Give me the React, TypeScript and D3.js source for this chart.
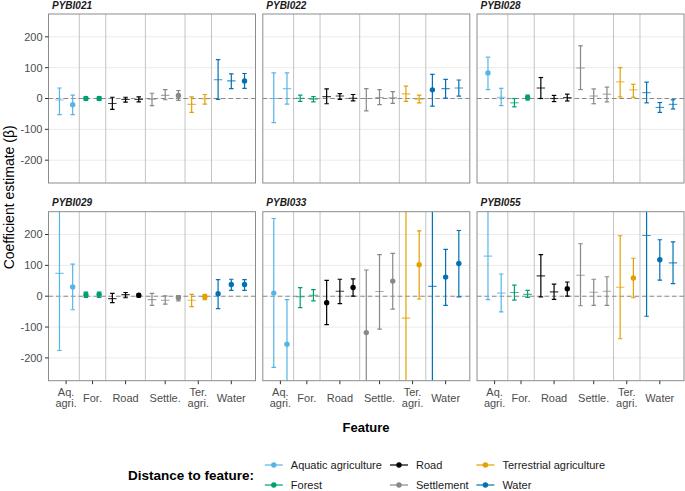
import React from "react";
import * as d3 from "d3";

const panelNames = ["PYBI021", "PYBI022", "PYBI028", "PYBI029", "PYBI033", "PYBI055"];
const featureLabels = [["Aq.", "agri."], ["For."], ["Road"], ["Settle."], ["Ter.", "agri."], ["Water"]];
const featureTickPos = [1.5, 3.5, 6, 9, 11.5, 14];
const separatorPos = [2.5, 4.5, 7.5, 10.5, 12.5];
const legendLabels = ["Aquatic agriculture", "Forest", "Road", "Settlement", "Terrestrial agriculture", "Water"];
const featureColors = ["#56B4E9", "#009E73", "#000000", "#888888", "#E69F00", "#0072B2"];
// feature index for each of the 15 model positions
const positionFeature = [0, 0, 1, 1, 2, 2, 2, 3, 3, 3, 4, 4, 5, 5, 5];
const yTicks = [-200, -100, 0, 100, 200];

const est021 = [-5, -20, 0, 0, -16, -3, -3, -2, 10, 10, -19, -1, 61, 57, 57];
const lo021 = [-52, -52, -5, -6, -35, -12, -11, -23, -4, -6, -45, -18, -3, 32, 33];
const hi021 = [34, 11, 5, 6, 4, 4, 5, 17, 29, 26, 5, 13, 126, 80, 81];
const pt021 = [0, 1, 1, 1, 0, 0, 0, 0, 0, 1, 0, 0, 0, 0, 1];

const est022 = [0, 32, 1, -2, 6, 8, 1, 0, 3, 2, 15, -2, 28, 32, 34];
const lo022 = [-78, -18, -9, -11, -17, -3, -8, -40, -20, -16, -9, -14, -25, 1, 8];
const hi022 = [83, 83, 11, 6, 31, 16, 13, 32, 29, 22, 40, 11, 78, 62, 60];
const pt022 = [0, 0, 0, 0, 0, 0, 0, 0, 0, 0, 0, 0, 1, 0, 0];

const est028 = [83, 4, -14, 3, 34, 0, 3, 99, 8, 14, 54, 28, 19, -29, -19];
const lo028 = [29, -23, -27, -5, 0, -10, -8, 29, -17, -11, 5, 4, -14, -45, -34];
const hi028 = [134, 33, 0, 11, 68, 10, 14, 171, 31, 37, 100, 46, 53, -13, -4];
const pt028 = [1, 0, 0, 1, 0, 0, 0, 0, 0, 0, 0, 0, 0, 0, 0];

const est029 = [74, 30, 5, 6, -8, 5, 3, -11, -13, -5, -13, -2, 8, 38, 38];
const lo029 = [-176, -44, -4, -4, -21, -5, -3, -30, -26, -15, -34, -11, -40, 19, 19];
const hi029 = [330, 104, 13, 13, 9, 12, 8, 9, 1, 2, 6, 6, 54, 55, 54];
const pt029 = [0, 1, 1, 1, 0, 0, 1, 0, 0, 1, 0, 1, 1, 1, 1];

const est033 = [10, -156, -2, 3, -21, 16, 28, -118, 15, 49, -71, 102, 32, 62, 106];
const lo033 = [-231, -330, -37, -15, -92, -24, 0, -330, -107, -42, -330, -9, -330, -30, -2];
const hi033 = [252, -11, 28, 21, 51, 55, 56, 85, 135, 139, 330, 212, 330, 152, 213];
const pt033 = [1, 1, 0, 0, 1, 0, 1, 1, 0, 1, 0, 1, 0, 1, 1];

const est055 = [130, 10, 12, 6, 66, 14, 24, 68, 13, 16, 29, 59, 197, 118, 108];
const lo055 = [-11, -51, -13, -4, -2, -10, 0, -31, -30, -30, -138, -5, -65, 52, 41];
const hi055 = [330, 72, 36, 19, 135, 39, 46, 170, 55, 63, 196, 123, 330, 183, 176];
const pt055 = [0, 0, 0, 0, 0, 0, 1, 0, 0, 0, 0, 1, 0, 1, 0];

const panelData = [
  [est021, lo021, hi021, pt021],
  [est022, lo022, hi022, pt022],
  [est028, lo028, hi028, pt028],
  [est029, lo029, hi029, pt029],
  [est033, lo033, hi033, pt033],
  [est055, lo055, hi055, pt055],
];

const FONT = "'Liberation Sans', Arial, Helvetica, sans-serif";
const W = 685;
const H = 491;
const panelLefts = [48.5, 262.8, 477];
const panelTops = [14, 211.7];
const PW = 207;
const PH = 169;

export default function App() {
  const x = d3.scaleLinear().domain([0.17, 15.83]).range([0, PW]);
  const y = d3.scaleLinear().domain([-274, 274]).range([PH, 0]);
  const capHalf = 0.17;
  const dashHalf = 0.32;

  return (
    <svg
      width={W}
      height={H}
      style={{ position: "absolute", left: 0, top: 0, background: "#fff" }}
      fontFamily={FONT}
    >
      <defs>
        {panelNames.map((n, i) => (
          <clipPath id={`clip${i}`} key={n}>
            <rect x={0} y={0} width={PW} height={PH} />
          </clipPath>
        ))}
      </defs>
      {panelNames.map((name, pi) => {
        const col = pi % 3;
        const row = Math.floor(pi / 3);
        const left = panelLefts[col];
        const top = panelTops[row];
        const [est, lo, hi, pt] = panelData[pi];
        return (
          <g key={name} transform={`translate(${left},${top})`}>
            <text x={3.5} y={-5.5} fontSize={10} fontWeight="bold" fontStyle="italic" fill="#1a1a1a">
              {name}
            </text>
            <rect x={0} y={0} width={PW} height={PH} fill="#fff" />
            {yTicks.map((t) => (
              <line key={t} x1={0} x2={PW} y1={y(t)} y2={y(t)} stroke="#ebebeb" strokeWidth={1} />
            ))}
            {separatorPos.map((s) => (
              <line key={s} x1={x(s)} x2={x(s)} y1={0} y2={PH} stroke="#c4c4c4" strokeWidth={1} />
            ))}
            <line x1={0} x2={PW} y1={y(0)} y2={y(0)} stroke="#8a8a8a" strokeWidth={1.1} strokeDasharray="4.5,3" />
            <g clipPath={`url(#clip${pi})`}>
              {est.map((e, i) => {
                const c = featureColors[positionFeature[i]];
                const xp = i + 1;
                return (
                  <g key={i}>
                    <line x1={x(xp)} x2={x(xp)} y1={y(lo[i])} y2={y(hi[i])} stroke={c} strokeWidth={1.2} />
                    <line x1={x(xp - capHalf)} x2={x(xp + capHalf)} y1={y(lo[i])} y2={y(lo[i])} stroke={c} strokeWidth={1.2} />
                    <line x1={x(xp - capHalf)} x2={x(xp + capHalf)} y1={y(hi[i])} y2={y(hi[i])} stroke={c} strokeWidth={1.2} />
                    {pt[i] ? (
                      <circle cx={x(xp)} cy={y(e)} r={2.7} fill={c} />
                    ) : (
                      <line
                        x1={x(xp - dashHalf)}
                        x2={x(xp + dashHalf)}
                        y1={y(e)}
                        y2={y(e)}
                        stroke={c}
                        strokeWidth={1.1}
                        strokeOpacity={0.75}
                      />
                    )}
                  </g>
                );
              })}
            </g>
            <rect x={0} y={0} width={PW} height={PH} fill="none" stroke="#8c8c8c" strokeWidth={1} />
            {col === 0 &&
              yTicks.map((t) => (
                <g key={t}>
                  <line x1={-3.5} x2={0} y1={y(t)} y2={y(t)} stroke="#333" strokeWidth={1} />
                  <text x={-6} y={y(t)} dy="0.35em" textAnchor="end" fontSize={11} fill="#4d4d4d">
                    {t}
                  </text>
                </g>
              ))}
            {row === 1 &&
              featureTickPos.map((p, fi) => {
                const lines = featureLabels[fi];
                return (
                  <g key={p}>
                    <line x1={x(p)} x2={x(p)} y1={PH} y2={PH + 3.5} stroke="#333" strokeWidth={1} />
                    {lines.length === 2 ? (
                      <>
                        <text x={x(p)} y={PH + 15} textAnchor="middle" fontSize={11} fill="#4d4d4d">
                          {lines[0]}
                        </text>
                        <text x={x(p)} y={PH + 26} textAnchor="middle" fontSize={11} fill="#4d4d4d">
                          {lines[1]}
                        </text>
                      </>
                    ) : (
                      <text x={x(p)} y={PH + 21.5} textAnchor="middle" fontSize={11} fill="#4d4d4d">
                        {lines[0]}
                      </text>
                    )}
                  </g>
                );
              })}
          </g>
        );
      })}
      <text
        transform={`translate(14,${(panelTops[0] + panelTops[1] + PH) / 2}) rotate(-90)`}
        textAnchor="middle"
        fontSize={14}
        fill="#000"
      >
        Coefficient estimate (β)
      </text>
      <text x={366} y={432} textAnchor="middle" fontSize={13} fontWeight="bold" fill="#000">
        Feature
      </text>
      <text x={128} y={480} fontSize={13.5} fontWeight="bold" fill="#000">
        Distance to feature:
      </text>
      {legendLabels.map((lab, i) => {
        const keyX = [264.8, 390, 476.4][Math.floor(i / 2)];
        const cy = [465, 485][i % 2];
        const c = featureColors[i];
        return (
          <g key={lab}>
            <line x1={keyX} x2={keyX + 18} y1={cy} y2={cy} stroke={c} strokeWidth={1.2} />
            <circle cx={keyX + 9} cy={cy} r={2.7} fill={c} />
            <text x={keyX + 26} y={cy} dy="0.35em" fontSize={11} fill="#1a1a1a">
              {lab}
            </text>
          </g>
        );
      })}
    </svg>
  );
}
